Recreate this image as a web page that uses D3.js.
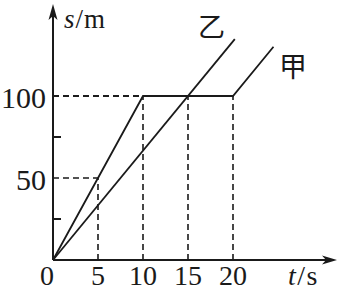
<!DOCTYPE html>
<html lang="zh">
<head>
<meta charset="utf-8">
<title>s-t graph</title>
<script src="https://cdn.jsdelivr.net/npm/d3@7"></script>
<style>
  body { margin: 0; background: #fff; }
</style>
</head>
<body>
<script>
// values
var xTicks = [0, 5, 10, 15, 20];
var yTicks = [50, 100];
var yMinor = [25, 75];
var jiaT = [0, 10, 20, 24.5];
var jiaS = [0, 100, 100, 130];
var yiT = [0, 20.2];
var yiS = [0, 134.7];
// dashed guides go from the axes to these points
var guides = [[5, 50], [10, 100], [15, 100], [20, 100]];

var w = 340, h = 291;
var ink = "#1a1a1a";
var serif = "'Liberation Serif', 'DejaVu Serif', serif";
var cjk = "'Noto Sans CJK SC', sans-serif";

var x = d3.scaleLinear().domain([0, 20]).range([53, 233]);
var y = d3.scaleLinear().domain([0, 100]).range([260, 96]);

var svg = d3.select("body").append("svg")
  .attr("width", w).attr("height", h);

// dashed guide lines
var g = svg.append("g")
  .attr("stroke", ink).attr("stroke-width", 1.6)
  .attr("stroke-dasharray", "6,4").attr("fill", "none");
guides.forEach(function(p) {
  g.append("line")
    .attr("x1", x(p[0])).attr("y1", y(0))
    .attr("x2", x(p[0])).attr("y2", y(p[1]));
  g.append("line")
    .attr("x1", x(0)).attr("y1", y(p[1]))
    .attr("x2", x(p[0])).attr("y2", y(p[1]));
});

// the two motion lines
var line = d3.line()
  .x(function(d) { return x(d[0]); })
  .y(function(d) { return y(d[1]); });

svg.append("path")
  .datum(d3.zip(jiaT, jiaS))
  .attr("d", line)
  .attr("fill", "none").attr("stroke", ink).attr("stroke-width", 1.8);

svg.append("path")
  .datum(d3.zip(yiT, yiS))
  .attr("d", line)
  .attr("fill", "none").attr("stroke", ink).attr("stroke-width", 1.8);

// axes with arrows
var axes = svg.append("g").attr("stroke", ink).attr("stroke-width", 2);
axes.append("line")
  .attr("x1", x(0)).attr("y1", y(0))
  .attr("x2", x(0)).attr("y2", 14);
axes.append("line")
  .attr("x1", x(0)).attr("y1", y(0))
  .attr("x2", 327).attr("y2", y(0));

svg.append("path")
  .attr("d", "M" + x(0) + ",4 L" + (x(0) - 4.5) + ",20 L" + x(0) + ",16 L" + (x(0) + 4.5) + ",20 Z")
  .attr("fill", ink);
svg.append("path")
  .attr("d", "M337," + y(0) + " L322," + (y(0) - 4.5) + " L326," + y(0) + " L322," + (y(0) + 4.5) + " Z")
  .attr("fill", ink);

// minor ticks on the s axis
axes.selectAll(".minor")
  .data(yMinor).enter().append("line")
  .attr("x1", x(0)).attr("x2", x(0) + 8)
  .attr("y1", function(d) { return y(d); })
  .attr("y2", function(d) { return y(d); });

// tick labels
svg.selectAll(".xl")
  .data(xTicks).enter().append("text")
  .attr("x", function(d) { return d === 0 ? x(d) - 6 : x(d); })
  .attr("y", 285)
  .attr("text-anchor", "middle")
  .attr("font-family", serif)
  .attr("font-size", 28)
  .attr("fill", ink)
  .text(function(d) { return d; });

svg.selectAll(".yl")
  .data(yTicks).enter().append("text")
  .attr("x", 46)
  .attr("y", function(d) { return y(d) + 12; })
  .attr("text-anchor", "end")
  .attr("font-family", serif)
  .attr("font-size", 30)
  .attr("fill", ink)
  .text(function(d) { return d; });

// axis titles
var st = svg.append("text").attr("x", 64).attr("y", 28)
  .attr("font-family", serif).attr("font-size", 27)
  .attr("letter-spacing", 1).attr("fill", ink);
st.append("tspan").attr("font-style", "italic").text("s");
st.append("tspan").text("/m");

var tt = svg.append("text").attr("x", 288).attr("y", 285)
  .attr("font-family", serif).attr("font-size", 28)
  .attr("letter-spacing", 1.5).attr("fill", ink);
tt.append("tspan").attr("font-style", "italic").text("t");
tt.append("tspan").text("/s");

// line names
svg.append("text")
  .attr("x", 211.5).attr("y", 37).attr("text-anchor", "middle")
  .attr("font-family", cjk)
  .attr("font-size", 27).attr("fill", ink).text("乙");
svg.append("text")
  .attr("x", 293).attr("y", 77).attr("text-anchor", "middle")
  .attr("font-family", cjk)
  .attr("font-size", 28).attr("fill", ink).text("甲");
</script>
</body>
</html>
